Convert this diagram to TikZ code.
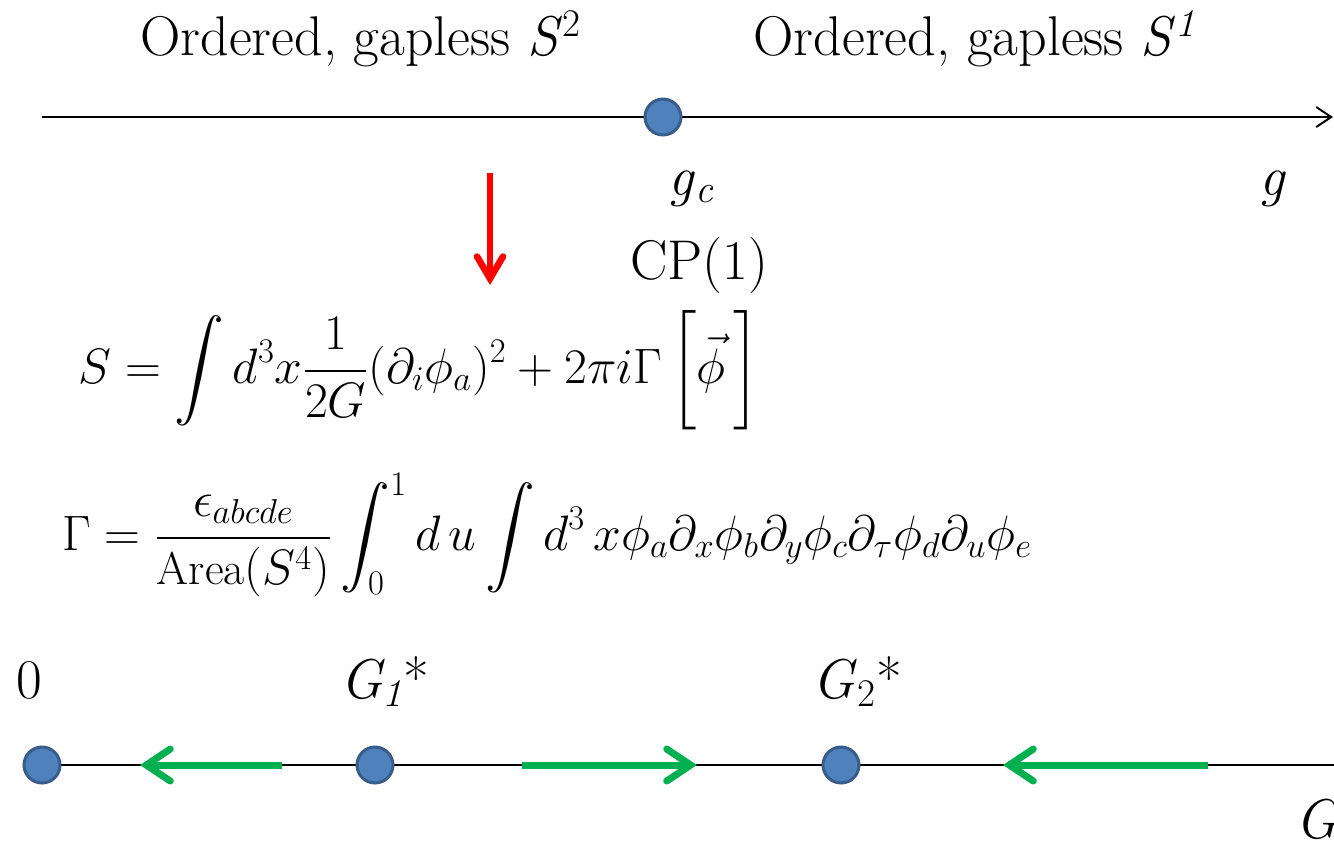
\documentclass[tikz,border=0pt]{standalone}
\usepackage{amsmath}
\usepackage{fontspec}
\usetikzlibrary{arrows.meta}
\definecolor{dotblue}{HTML}{4F81BD}
\definecolor{dotedge}{HTML}{385D8A}
\definecolor{flowgreen}{HTML}{00B050}
\definecolor{mapred}{HTML}{FF0000}
\begin{document}
\begin{tikzpicture}[x=0.5pt,y=-0.5pt,
    phase/.style={font=\fontsize{28}{34}\selectfont, inner sep=0pt},
    point/.style={circle, fill=dotblue, draw=dotedge, line width=1.5pt, minimum size=18pt, inner sep=0pt},
    flow/.style={draw=flowgreen, line width=3.5pt, -{Straight Barb[length=12pt,width=16pt,line cap=round]}},
    formula/.style={inner sep=0pt, anchor=base west}]
    \useasboundingbox (0,0) rectangle (1334,843);

    % Upper axis: coupling g
    \coordinate (gstart) at (42,117);
    \coordinate (gend) at (1333,117);
    \draw[line width=1pt, -{Straight Barb[length=7.5pt,width=10pt]}] (gstart) -- (gend);
    \node[point] (gc) at (663,117) {};
    \node[phase, anchor=base] (leftphase) at (361,55) {Ordered, gapless \textit{S}\textsuperscript{2}};
    \node[phase, anchor=base] (rightphase) at (975,55) {Ordered, gapless \textit{S}\textsuperscript{\textit{1}}};
    \node[phase, anchor=base west] (gclabel) at (668,195) {\textit{g}\textsubscript{\textit{c}}};
    \node[phase, anchor=base west] (glabel) at (1259,195) {\textit{g}};
    \node[phase, anchor=base west] (cplabel) at (630,279) {CP(1)};

    % Red map arrow
    \coordinate (mapstart) at (490,173);
    \coordinate (mapend) at (490,285);
    \draw[draw=mapred, line width=3.3pt, -{Straight Barb[length=11pt,width=13pt,line cap=round]}] (mapstart) -- (mapend);

    % Sigma model with theta term
    \node[formula, font=\fontsize{24}{28}\selectfont] (action) at (78,383) {$S=\displaystyle\int d^3x\frac{1}{2G}(\partial_i\phi_a)^2+2\pi i\Gamma\left[\vphantom{\frac{1}{2G}}\vec{\phi}\,\right]$};
    \node[formula, font=\fontsize{23}{28}\selectfont] (wzw) at (62,550) {$\displaystyle\Gamma=\frac{\epsilon_{abcde}}{\mathrm{Area}(S^4)}\int_0^1 d\,u\int d^3\,x\phi_a\partial_x\phi_b\partial_y\phi_c\partial_\tau\phi_d\partial_u\phi_e$};

    % Lower axis: coupling G with RG flow
    \coordinate (Gstart) at (42,765);
    \coordinate (Gend) at (1334,765);
    \draw[line width=1pt] (Gstart) -- (Gend);
    \node[point] (fix0) at (42,765) {};
    \node[point] (fix1) at (375,765) {};
    \node[point] (fix2) at (841,765) {};
    \node[phase, anchor=base west] (zerolabel) at (16,698) {0};
    \node[phase, anchor=base west] (G1label) at (340,698) {\textit{G\textsubscript{1}}*};
    \node[phase, anchor=base west] (G2label) at (812,698) {\textit{G}\textsubscript{2}*};
    \node[phase, anchor=base west] (Glabel) at (1295,838) {\textit{G}};

    \draw[flow] (282,765) -- (140,765);
    \draw[flow] (522,765) -- (697,765);
    \draw[flow] (1208,765) -- (1003,765);
\end{tikzpicture}
\end{document}
